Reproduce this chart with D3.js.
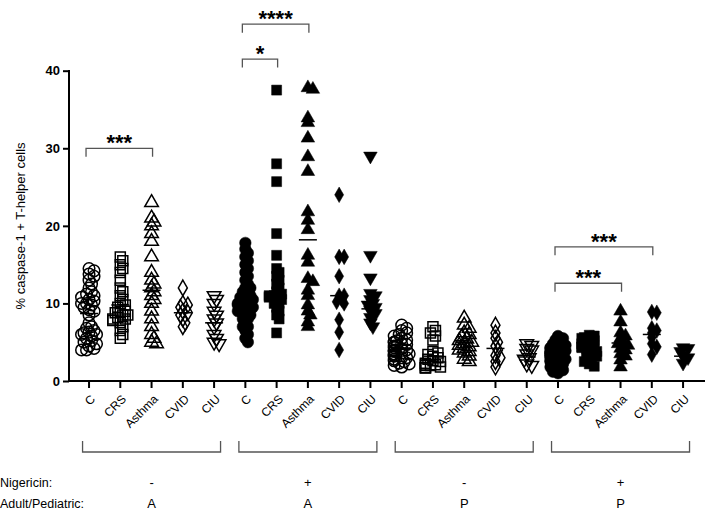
<!DOCTYPE html>
<html>
<head>
<meta charset="utf-8">
<script src="https://cdn.jsdelivr.net/npm/d3@7"></script>
<style>
  body { margin: 0; background: #fff; }
  #wrap { position: relative; width: 709px; height: 512px; }
  svg { position: absolute; left: 0; top: 0; }
  text, .lab { font-family: Arial, "Liberation Sans", Helvetica, sans-serif; }
  .lab {
    position: absolute; width: 60px; height: 14px; line-height: 14px;
    font-size: 12px; text-align: right; white-space: nowrap;
    transform-origin: 100% 50%; transform: rotate(-45deg);
  }
</style>
</head>
<body>
<div id="wrap"><svg width="709" height="512" viewBox="0 0 709 512"></svg></div>
<script>
// categories
var diseases = ["C", "CRS", "Asthma", "CVID", "CIU"];
var conditions = ["A-", "A+", "P-", "P+"];
var nigericin = ["-", "+", "-", "+"];
var adultPed = ["A", "A", "P", "P"];
var yTicks = [0, 10, 20, 30, 40];

// values per group (% caspase-1+ T-helper cells)
var adultNeg = [
  [14.5, 14.2, 13.8, 13.5, 13, 12.5, 12, 11.5, 11.2, 11, 10.8, 10.5, 10.3, 10, 10, 9.8, 9.5, 9.2, 9, 8.5, 7.5, 7, 6.8, 6.5, 6.3, 6.2, 6, 6, 5.8, 5.5, 5.2, 5, 4.8, 4.5, 4.2, 4, 4],
  [16, 15.5, 15, 14.5, 14, 13, 12, 11.5, 11, 10.5, 10, 9.8, 9.5, 9, 9, 8.8, 8.5, 8.5, 8.2, 8, 8, 7.8, 7.5, 7, 6.5, 6, 5.5],
  [23, 21, 20.5, 20, 19, 18, 16, 14, 13, 12.5, 12, 11.5, 11, 10.5, 10, 9, 8, 7, 6, 5.5, 5, 4.8],
  [12, 10, 9.8, 9.5, 9, 8.8, 8.5, 8, 7.5, 7],
  [11, 10.5, 10, 9, 8.5, 8, 7.5, 7, 6, 5.5, 5, 4.8]
];
var adultPos = [
  [17.8, 17, 16.5, 16, 15.5, 15, 14.5, 14, 13.5, 13, 12.5, 12, 12, 11.5, 11.5, 11, 11, 10.8, 10.5, 10.5, 10.2, 10, 10, 9.8, 9.5, 9.5, 9.2, 9, 9, 8.5, 8.5, 8, 8, 7.5, 7, 7, 6.5, 6, 5.5, 5],
  [37.5, 28, 25.7, 19, 16.2, 14.5, 14, 13.5, 13, 12.5, 12, 11.5, 11.2, 11, 11, 10.8, 10.5, 10.5, 10, 10, 9.5, 9, 8.5, 8, 6.2],
  [37.8, 37.6, 33.9, 33.3, 31.3, 28.9, 27, 21.8, 20.7, 19.5, 16.2, 15.3, 13.2, 12.8, 11.7, 11, 9.8, 9, 8.5, 7.6, 7],
  [24, 16, 16, 13.5, 11, 11, 10.5, 10, 10.2, 7.9, 6.3, 4],
  [29, 16.2, 13.3, 11.3, 11, 10.5, 10, 9.8, 9.5, 9.1, 8.7, 8.2, 7.5, 7]
];
var pedNeg = [
  [7.2, 6.8, 6.5, 6.2, 6, 5.8, 5.5, 5.3, 5.2, 5, 5, 4.8, 4.7, 4.5, 4.5, 4.3, 4.2, 4, 4, 3.9, 3.8, 3.6, 3.5, 3.5, 3.3, 3.2, 3, 3, 2.8, 2.6, 2.5, 2.3, 2.2, 2, 1.8],
  [7, 6.5, 6.2, 5.8, 5.3, 3.8, 3.6, 3.4, 3.2, 3, 2.8, 2.6, 2.5, 2.3, 2.2, 2.1, 2, 2, 1.8, 1.7, 1.7, 1.7],
  [8.1, 7.2, 6.8, 6.2, 6, 5.7, 5.4, 5.2, 5, 4.8, 4.6, 4.4, 4.2, 4, 3.8, 3.6, 3.2, 2.8, 2.5],
  [7.2, 6.2, 5.5, 5, 4.5, 4, 3.3, 3, 2.5, 1.8],
  [4.8, 4.6, 4.2, 4, 3.5, 3, 2.8, 2.2, 2]
];
var pedPos = [
  [5.8, 5.5, 5.3, 5, 4.8, 4.6, 4.5, 4.3, 4.2, 4, 4, 3.9, 3.8, 3.7, 3.6, 3.5, 3.5, 3.4, 3.3, 3.2, 3, 3, 2.9, 2.8, 2.6, 2.5, 2.3, 2.2, 2, 1.8, 1.6, 1.4, 1.2, 1],
  [5.9, 5.8, 5.6, 5.5, 5.3, 5.2, 5, 4.8, 4.7, 4.5, 4.4, 4.3, 4.2, 4, 3.8, 3.6, 3.4, 3.2, 3, 2.8, 2.5, 2.2, 1.9],
  [9, 7.6, 6.2, 5.8, 5.5, 5, 4.8, 4.6, 4.2, 4, 3.5, 3.2, 2.7, 1.8],
  [8.9, 8.8, 6.8, 6.5, 6.2, 5.6, 4.8, 4.4, 3.4],
  [4.3, 4.2, 3.8, 3.3, 3, 2.3]
];
var groups = [adultNeg, adultPos, pedNeg, pedPos];

// mean lines as drawn in the picture
var means = [
  [8.7, 9.8, 11.7, 8.8, 7.5],
  [10.7, 11, 18.2, 11, 9.3],
  [4.2, 3.2, 5, 4.2, 3.1],
  [3.4, 4.3, 4.9, 6, 3.2]
];

// significance brackets: [from index, to index, label, bracket y value]
var sigs = [
  [0, 2, "***", 30],
  [5, 6, "*", 41.5],
  [5, 7, "****", 46],
  [15, 18, "***", 17.3],
  [15, 17, "***", 12.6]
];

var canvas = d3.select("svg");

var keys = [];
conditions.forEach(function(c, gi) {
  diseases.forEach(function(d, di) { keys.push(gi * 5 + di); });
});

var x = d3.scaleBand().domain(keys).range([73.4, 698.7]);
var y = d3.scaleLinear().domain([0, 40]).range([381, 70.7]);

var shapes = [d3.symbolCircle, d3.symbolSquare, d3.symbolTriangle, d3.symbolDiamond, d3.symbolTriangle];
var sizes = [105, 100, 80, 70, 80];

// y axis
var yAxis = canvas.append("g")
  .attr("transform", "translate(69,0)")
  .call(d3.axisLeft(y).tickValues(yTicks).tickSize(6).tickPadding(3));
yAxis.select(".domain").attr("stroke-width", 2).attr("d", "M0,381V70");
yAxis.selectAll(".tick line").attr("stroke-width", 2);
yAxis.selectAll(".tick text")
  .style("font-size", "13px").style("font-weight", "bold").attr("fill", "#000");

// x axis
var xAxis = canvas.append("g")
  .attr("transform", "translate(0,381)")
  .call(d3.axisBottom(x).tickSize(7).tickFormat(""));
xAxis.select(".domain").attr("stroke-width", 2).attr("d", "M68,0H705");
xAxis.selectAll(".tick line").attr("stroke-width", 2);

// slanted category labels as html, rotated with css
d3.select("#wrap").selectAll("div.lab")
  .data(keys)
  .enter()
    .append("div")
    .attr("class", "lab")
    .style("left", function(k) { return (x(k) + x.bandwidth() / 2 + 4 - 60) + "px"; })
    .style("top", "390px")
    .text(function(k) { return diseases[k % 5]; });

// y label
canvas.append("text")
  .attr("transform", "translate(25,226) rotate(-90)")
  .attr("text-anchor", "middle")
  .style("font-size", "13px")
  .text("% caspase-1 + T-helper cells");

// simple beeswarm offsets (deterministic)
function swarm(vals) {
  var placed = [];
  var sorted = vals.slice().sort(function(a, b) { return b - a; });
  sorted.forEach(function(v) {
    var py = y(v);
    var cands = [0, 2.5, -2.5, 5, -5, 7.5, -7.5];
    for (var i = 0; i < cands.length; i++) {
      var ok = placed.every(function(p) {
        var dx = p.dx - cands[i], dy = p.y - py;
        return dx * dx + dy * dy >= 16;
      });
      if (ok || i === cands.length - 1) {
        placed.push({ v: v, y: py, dx: cands[i] });
        break;
      }
    }
  });
  return placed;
}

// points
groups.forEach(function(g, gi) {
  var filled = gi % 2 === 1;
  g.forEach(function(vals, di) {
    var k = gi * 5 + di;
    var cx = x(k) + x.bandwidth() / 2;
    var pts = swarm(vals);
    canvas.append("g").selectAll("path")
      .data(pts)
      .enter()
        .append("path")
        .attr("d", d3.symbol().type(shapes[di]).size(sizes[di]))
        .attr("transform", function(p) {
          return "translate(" + (cx + p.dx) + "," + p.y + ")" + (di === 4 ? " scale(1,-1)" : "");
        })
        .attr("fill", filled ? "#000" : "none")
        .attr("stroke", "#000")
        .attr("stroke-width", filled ? 0.5 : 1.5);

    canvas.append("line")
      .attr("x1", cx - 9).attr("x2", cx + 9)
      .attr("y1", y(means[gi][di])).attr("y2", y(means[gi][di]))
      .attr("stroke", "#000")
      .attr("stroke-width", 1.5);
  });
});

// significance brackets
sigs.forEach(function(s) {
  var x1 = x(s[0]) + x.bandwidth() / 2 - 3,
      x2 = x(s[1]) + x.bandwidth() / 2 + 1,
      yy = y(s[3]);
  canvas.append("path")
    .attr("d", "M" + x1 + "," + (yy + 8.5) + "V" + yy + "H" + x2 + "V" + (yy + 8.5))
    .attr("fill", "none")
    .attr("stroke", "#555")
    .attr("stroke-width", 1.3);
  canvas.append("text")
    .attr("x", (x1 + x2) / 2)
    .attr("y", yy + 2)
    .attr("text-anchor", "middle")
    .style("font-size", "22px")
    .style("font-weight", "bold")
    .text(s[2]);
});

// group brackets and condition labels
conditions.forEach(function(c, gi) {
  var mid = x(gi * 5 + 2) + x.bandwidth() / 2;
  canvas.append("path")
    .attr("d", "M" + (mid - 69) + ",441V452H" + (mid + 69) + "V441")
    .attr("fill", "none")
    .attr("stroke", "#555")
    .attr("stroke-width", 1.3);
  canvas.append("text")
    .attr("x", mid).attr("y", 487)
    .attr("text-anchor", "middle")
    .style("font-size", "13px")
    .text(nigericin[gi]);
  canvas.append("text")
    .attr("x", mid).attr("y", 508)
    .attr("text-anchor", "middle")
    .style("font-size", "13px")
    .text(adultPed[gi]);
});

canvas.append("text").attr("x", 0).attr("y", 487).style("font-size", "12.5px").text("Nigericin:");
canvas.append("text").attr("x", 0).attr("y", 508).style("font-size", "12.5px").text("Adult/Pediatric:");
</script>
</body>
</html>
